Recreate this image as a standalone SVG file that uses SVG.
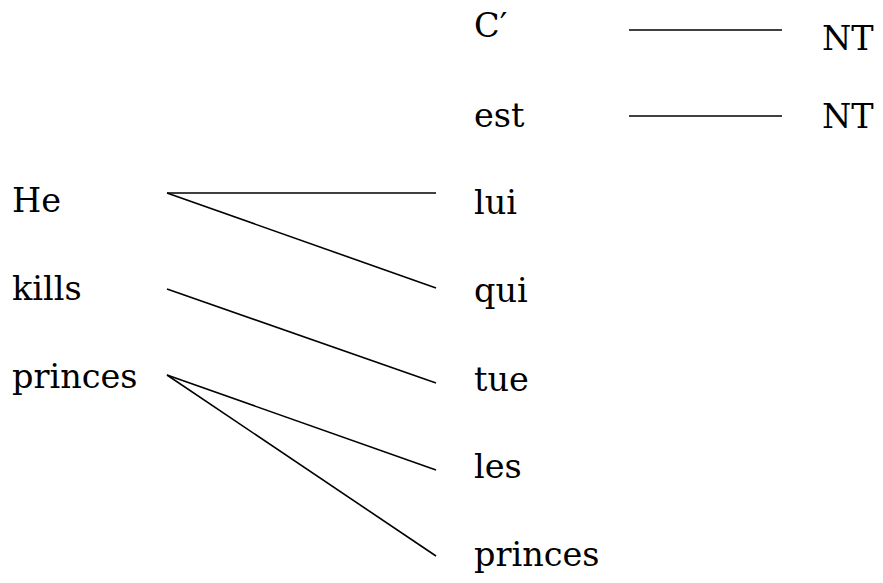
<svg xmlns="http://www.w3.org/2000/svg" width="883" height="583" viewBox="0 0 883 583">
<style>
text{font-family:"DejaVu Serif","Liberation Serif",serif;font-size:33.5px;fill:#000}
.c line{stroke:#000;stroke-width:1.6}
</style>
<rect width="883" height="583" fill="#fff"/>
<g id="n-He"><text x="12" y="212">He</text></g>
<g id="n-kills"><text x="12" y="300">kills</text></g>
<g id="n-princes-en"><text x="12" y="388">princes</text></g>
<g id="n-C"><text x="474" y="37">C′</text></g>
<g id="n-est"><text x="474" y="127">est</text></g>
<g id="n-lui"><text x="474" y="214">lui</text></g>
<g id="n-qui"><text x="474" y="302">qui</text></g>
<g id="n-tue"><text x="474" y="391">tue</text></g>
<g id="n-les"><text x="474" y="478">les</text></g>
<g id="n-princes-fr"><text x="474" y="566">princes</text></g>
<g id="n-NT1"><text x="822" y="50">NT</text></g>
<g id="n-NT2"><text x="822" y="128">NT</text></g>
<g class="c" id="connectors">
<line x1="629" y1="30" x2="782" y2="30"/>
<line x1="629" y1="116" x2="782" y2="116"/>
<line x1="167" y1="193" x2="436" y2="193"/>
<line x1="167" y1="193" x2="436" y2="288"/>
<line x1="167" y1="289" x2="436" y2="383"/>
<line x1="167" y1="375" x2="436" y2="470"/>
<line x1="167" y1="375" x2="436" y2="556"/>
</g>
</svg>
